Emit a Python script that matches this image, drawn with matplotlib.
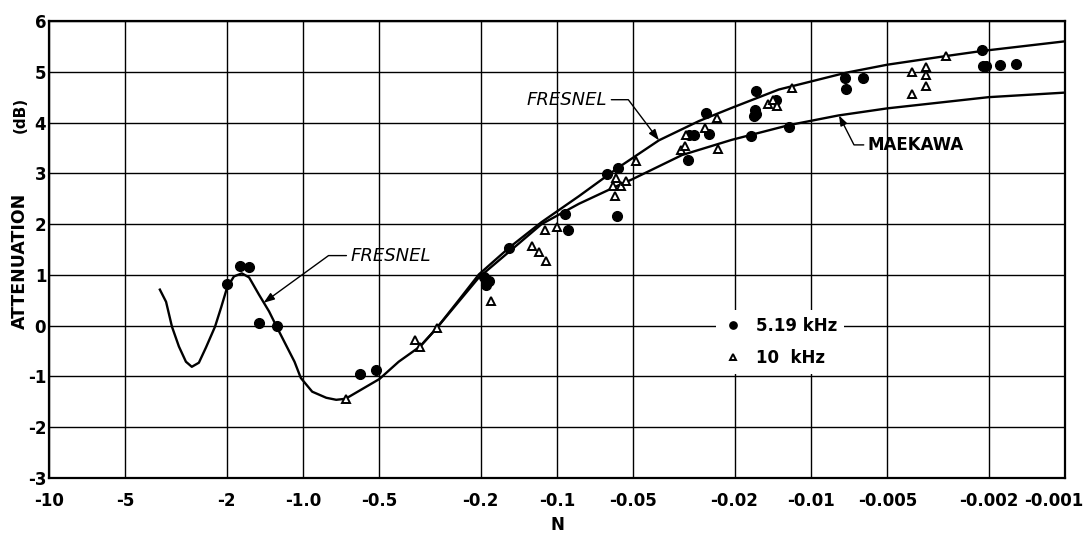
import numpy as np
import matplotlib
matplotlib.use('Agg')
import matplotlib.pyplot as plt
from matplotlib.ticker import FixedLocator, FixedFormatter, NullLocator
from matplotlib.transforms import ScaledTranslation

# Fresnel number N (negative, shadow side) vs excess attenuation in dB
fresnel_n = [-3.66, -3.46, -3.28, -3.08, -2.89, -2.74, -2.57, -2.41, -2.22, -2.10,
	-1.99, -1.87, -1.74, -1.63, -1.49, -1.36, -1.27, -1.17, -1.08, -1.02,
	-0.92, -0.81, -0.74, -0.68, -0.59, -0.50, -0.42, -0.346, -0.299, -0.243,
	-0.203, -0.154, -0.115, -0.082, -0.0575, -0.0397, -0.0276, -0.0205, -0.0134, -0.0073,
	-0.0050, -0.00294, -0.00212, -0.001]
fresnel_db = [0.71, 0.47, -0.02, -0.41, -0.71, -0.81, -0.73, -0.43, -0.02, 0.36,
	0.75, 0.97, 1.03, 0.95, 0.61, 0.28, -0.02, -0.37, -0.71, -1.03,
	-1.30, -1.42, -1.46, -1.44, -1.26, -1.05, -0.71, -0.41, -0.06, 0.51,
	1.01, 1.54, 2.04, 2.55, 3.11, 3.65, 4.03, 4.29, 4.65, 4.98,
	5.14, 5.31, 5.41, 5.60]

maekawa_n = [-0.346, -0.299, -0.203, -0.154, -0.115, -0.082, -0.0575, -0.0507,
	-0.0322, -0.0205, -0.0122, -0.0078, -0.0050, -0.0020, -0.001]
maekawa_db = [-0.41, -0.06, 0.95, 1.46, 2.00, 2.40, 2.76, 2.88,
	3.36, 3.66, 3.95, 4.14, 4.28, 4.50, 4.59]

# measured, 5.19 kHz
dots_n = [-1.99, -1.77, -1.63, -1.49, -1.27, -0.597, -0.516, -0.194, -0.186, -0.190,
	-0.154, -0.0931, -0.0906, -0.0636, -0.0575, -0.0581, -0.0305, -0.0302, -0.0289, -0.0259,
	-0.0252, -0.0165, -0.0166, -0.0164, -0.0168, -0.0172, -0.0137, -0.0122, -0.00734, -0.00728,
	-0.00623, -0.00212, -0.00210, -0.00205, -0.00180, -0.00156]
dots_db = [0.82, 1.18, 1.15, 0.05, -0.01, -0.95, -0.87, 0.95, 0.88, 0.80,
	1.52, 2.20, 1.89, 2.99, 3.11, 2.15, 3.26, 3.76, 3.75, 4.19,
	3.78, 4.63, 4.25, 4.16, 4.12, 3.73, 4.44, 3.91, 4.88, 4.67,
	4.88, 5.43, 5.12, 5.12, 5.13, 5.15]

# measured, 10 kHz
tri_n = [-0.678, -0.362, -0.346, -0.297, -0.182, -0.126, -0.118, -0.110, -0.111, -0.100,
	-0.0586, -0.0603, -0.0560, -0.0535, -0.0592, -0.0489, -0.0325, -0.0313, -0.0310, -0.0261,
	-0.0234, -0.0232, -0.0148, -0.0141, -0.0136, -0.0119, -0.0040, -0.0040, -0.00352, -0.00352,
	-0.00352, -0.00294]
tri_db = [-1.44, -0.28, -0.43, -0.04, 0.48, 1.56, 1.46, 1.27, 1.88, 1.94,
	2.90, 2.76, 2.76, 2.84, 2.56, 3.25, 3.46, 3.54, 3.75, 3.89,
	4.09, 3.48, 4.36, 4.44, 4.32, 4.69, 4.99, 4.56, 5.09, 4.94,
	4.72, 5.31]

n_ticks = [-10, -5, -2, -1, -0.5, -0.2, -0.1, -0.05, -0.02, -0.01, -0.005, -0.002, -0.001]
n_labels = ['-10', '-5', '-2', '-1.0', '-0.5', '-0.2', '-0.1', '-0.05', '-0.02', '-0.01',
	'-0.005', '-0.002', '-0.001']
db_ticks = [-3, -2, -1, 0, 1, 2, 3, 4, 5, 6]


def fwd(x):
	x = np.asarray(x, dtype=float)
	with np.errstate(divide='ignore', invalid='ignore'):
		return -np.log10(-x)

def inv(y):
	return -10.0 ** (-np.asarray(y, dtype=float))


plt.rcParams['axes.unicode_minus'] = False
plt.rcParams['font.family'] = 'DejaVu Sans'

fig = plt.figure(figsize=(10.91, 5.33), dpi=100)
ax = fig.add_axes([0.0449, 0.1032, 0.9313, 0.8574])
ax.set_xscale('function', functions=(fwd, inv))
ax.set_xlim(-10, -0.001)
ax.set_ylim(-3, 6)

ax.xaxis.set_major_locator(FixedLocator(n_ticks))
ax.xaxis.set_major_formatter(FixedFormatter(n_labels))
ax.xaxis.set_minor_locator(NullLocator())
ax.yaxis.set_major_locator(FixedLocator(db_ticks))
ax.yaxis.set_major_formatter(FixedFormatter([str(v) for v in db_ticks]))

ax.grid(True, color='black', lw=1.0)
ax.set_axisbelow(True)
for s in ax.spines.values():
	s.set_linewidth(1.6)

ax.tick_params(axis='both', length=0, labelsize=12)
ax.tick_params(axis='x', pad=10)
ax.tick_params(axis='y', pad=2)
for lbl in ax.get_xticklabels() + ax.get_yticklabels():
	lbl.set_fontweight('bold')

# last label sits a bit left of its tick so it stays on the sheet
last = ax.xaxis.get_major_ticks()[-1].label1
last.set_transform(last.get_transform() + ScaledTranslation(-8 / 72, 0, fig.dpi_scale_trans))

ax.plot(fresnel_n, fresnel_db, color='black', lw=1.7, zorder=3)
ax.plot(maekawa_n, maekawa_db, color='black', lw=1.7, zorder=3)
ax.plot(dots_n, dots_db, 'o', ms=7, color='black', zorder=4, label='5.19 kHz')
ax.plot(tri_n, tri_db, '^', ms=6, mfc='white', mec='black', mew=1.4, zorder=5,
	label='10  kHz')

leg = ax.legend(loc='upper left', bbox_to_anchor=(0.6565, 0.3676), borderaxespad=0,
	frameon=True, fancybox=False, framealpha=1, facecolor='white', edgecolor='none',
	markerscale=0.75, handlelength=1.2, handletextpad=0.8, labelspacing=0.85,
	borderpad=0.4, prop={'size': 12, 'weight': 'bold'})

arrow = dict(arrowstyle='-|>,head_length=0.5,head_width=0.18', color='black', lw=1.0,
	shrinkA=1, shrinkB=0)

ax.annotate('FRESNEL', xy=(-0.0397, 3.65), xytext=(-0.0914, 4.45), ha='center', va='center',
	fontsize=13, style='italic',
	arrowprops=dict(arrow, relpos=(1, 0.5), connectionstyle='angle,angleA=0,angleB=127,rad=0'))
ax.annotate('FRESNEL', xy=(-1.43, 0.45), xytext=(-0.451, 1.38), ha='center', va='center',
	fontsize=13, style='italic',
	arrowprops=dict(arrow, relpos=(0, 0.5), connectionstyle='angle,angleA=180,angleB=36,rad=0'))
ax.annotate('MAEKAWA', xy=(-0.00776, 4.14), xytext=(-0.00386, 3.56), ha='center', va='center',
	fontsize=12, fontweight='bold',
	arrowprops=dict(arrow, relpos=(0, 0.5), connectionstyle='angle,angleA=180,angleB=-63,rad=0'))

fig.text(20 / 1091, 1 - 261 / 533, 'ATTENUATION', rotation=90, ha='center', va='center',
	fontsize=12.5, fontweight='bold')
fig.text(20 / 1091, 1 - 115 / 533, '(dB)', rotation=90, ha='center', va='center',
	fontsize=11, fontweight='bold')
fig.text(557 / 1091, 1 - 525 / 533, 'N', ha='center', va='center',
	fontsize=12, fontweight='bold')

fig.savefig('out.png', dpi=100)
